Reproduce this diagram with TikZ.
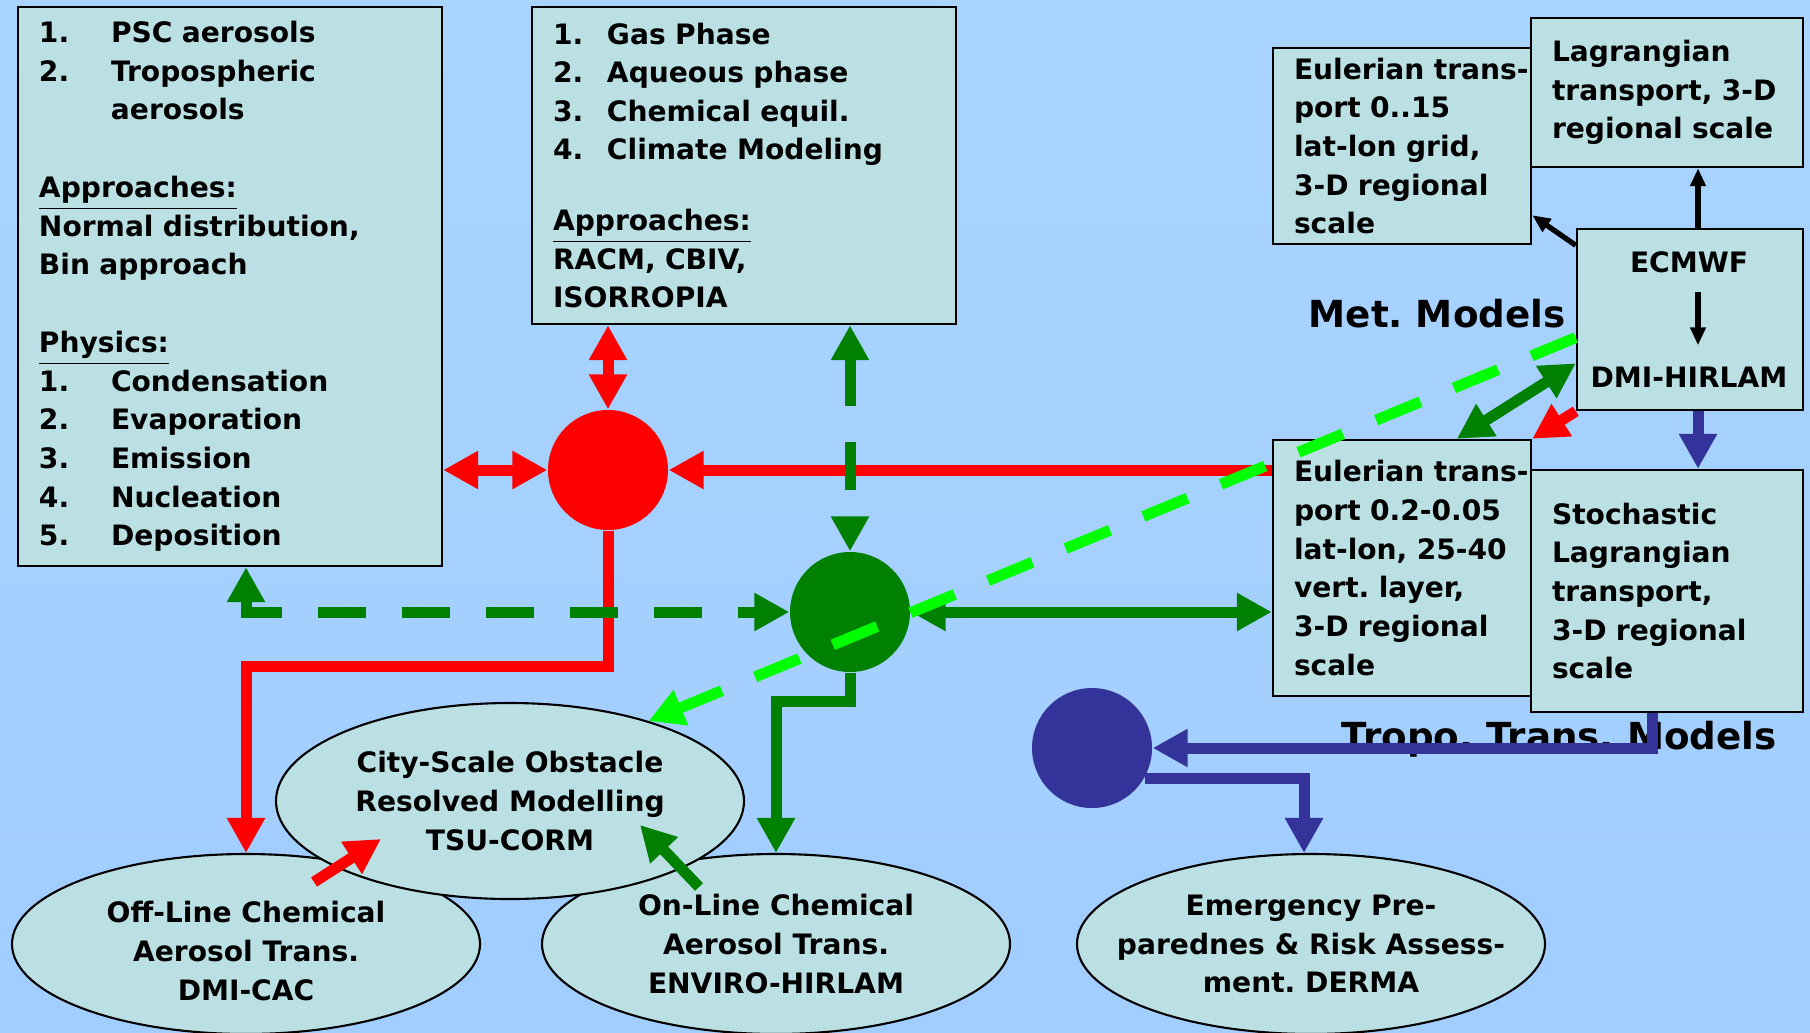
\documentclass[tikz,border=0pt]{standalone}
\usepackage{fontspec}
\setmainfont{DejaVu Sans}
\usetikzlibrary{arrows.meta,shapes.geometric}
\definecolor{boxfill}{HTML}{BBE0E3}
\definecolor{skytop}{HTML}{A9D4FF}
\definecolor{skymid}{HTML}{CCEBFF}
\definecolor{skybot}{HTML}{A1CDFF}
\definecolor{chemgreen}{HTML}{008000}
\definecolor{citygreen}{HTML}{00FF00}
\definecolor{tropoblue}{HTML}{333399}
\frenchspacing

\begin{document}
\begin{tikzpicture}[
    >={Triangle[length=0.35cm,width=0.36cm]},
    txt/.style={font=\fontsize{8}{11}\selectfont\bfseries},
    bigtxt/.style={font=\fontsize{10.6}{12}\selectfont\bfseries, inner sep=0pt},
    infobox/.style={txt, draw=black, line width=0.7pt, fill=boxfill, align=left, inner xsep=0.21cm, inner ysep=0pt},
    model/.style={ellipse, draw=black, line width=0.6pt, fill=boxfill, inner sep=0pt, minimum width=4.68cm, minimum height=1.80cm},
    hub/.style={circle, inner sep=0pt, minimum size=1.2cm},
    link/.style={line width=0.11cm},
    dashy/.style={dash pattern=on 0.48cm off 0.36cm},
    pointer/.style={line width=1.5pt, -{Triangle[length=0.18cm,width=0.15cm]}}
]
    % Sky background
    \useasboundingbox (0,0) rectangle (18.10,10.32);
    \shade[top color=skytop, middle color=skymid, bottom color=skybot] (0,0) rectangle (18.10,10.32);

    % Aerosol and chemistry boxes
    \node[infobox, text width=3.82cm, minimum height=5.59cm] (aerobox) at (2.30,7.455) {%
        \makebox[0.72cm][l]{1.}PSC aerosols\\
        \makebox[0.72cm][l]{2.}Tropospheric\\
        \hspace*{0.72cm}aerosols\\[0.39cm]
        \underline{Approaches:}\\
        Normal distribution,\\
        Bin approach\\[0.39cm]
        \underline{Physics:}\\
        \makebox[0.72cm][l]{1.}Condensation\\
        \makebox[0.72cm][l]{2.}Evaporation\\
        \makebox[0.72cm][l]{3.}Emission\\
        \makebox[0.72cm][l]{4.}Nucleation\\
        \makebox[0.72cm][l]{5.}Deposition};
    \node[infobox, text width=3.82cm, minimum height=3.17cm] (chembox) at (7.44,8.665) {%
        \makebox[0.54cm][l]{1.}Gas Phase\\
        \makebox[0.54cm][l]{2.}Aqueous phase\\
        \makebox[0.54cm][l]{3.}Chemical equil.\\
        \makebox[0.54cm][l]{4.}Climate Modeling\\[0.32cm]
        \underline{Approaches:}\\
        RACM, CBIV,\\
        ISORROPIA};

    % Met. models
    \node[infobox, text width=2.16cm, minimum height=1.96cm] (eultop) at (14.02,8.86) {%
        \mbox{Eulerian trans-}\\port 0..15\\lat-lon grid,\\3-D regional\\scale};
    \node[infobox, text width=2.30cm, minimum height=1.49cm] (lagtop) at (16.67,9.395) {%
        Lagrangian\\transport, 3-D\\regional scale};
    \node[infobox, minimum width=2.26cm, minimum height=1.81cm] (ecmwf) at (16.90,7.125) {};
    \node[txt] (ecmwftxt) at (16.89,7.70) {ECMWF};
    \node[txt] (hirlamtxt) at (16.89,6.55) {DMI-HIRLAM};
    \node[bigtxt, anchor=base west] (metlabel) at (13.08,7.05) {Met. Models};

    % Tropo. transport models
    \node[infobox, text width=2.16cm, minimum height=2.56cm] (eulbot) at (14.02,4.64) {%
        \mbox{Eulerian trans-}\\port 0.2-0.05\\lat-lon, 25-40\\vert. layer,\\3-D regional\\scale};
    \node[infobox, text width=2.30cm, minimum height=2.42cm] (stoch) at (16.67,4.41) {%
        Stochastic\\Lagrangian\\transport,\\3-D regional\\scale};
    \node[bigtxt, anchor=base west] (tropolabel) at (13.41,2.83) {Tropo. Trans. Models};

    % Hubs
    \node[hub, fill=red] (red) at (6.08,5.62) {};
    \node[hub, fill=chemgreen] (green) at (8.50,4.20) {};
    \node[hub, fill=tropoblue] (blue) at (10.92,2.84) {};

    % Model ellipses
    \node[model] (offline) at (2.46,0.88) {};
    \node[model] (online) at (7.76,0.88) {};
    \node[model] (emerg) at (13.11,0.88) {};
    \node[model, minimum height=1.96cm] (city) at (5.10,2.31) {};
    \node[txt, align=center, yshift=-0.07cm] (offtxt) at (offline) {Off-Line Chemical\\Aerosol Trans.\\DMI-CAC};
    \node[txt, align=center] (ontxt) at (online) {On-Line Chemical\\Aerosol Trans.\\ENVIRO-HIRLAM};
    \node[txt, align=center] (emergtxt) at (emerg) {Emergency Pre-\\parednes \& Risk Assess-\\ment. DERMA};
    \node[txt, align=center] (citytxt) at (city) {City-Scale Obstacle\\Resolved Modelling\\TSU-CORM};

    % Turning points
    \coordinate (redturn) at (2.46,3.66);
    \coordinate (greenturn) at (7.76,3.31);
    \coordinate (metaxis) at (16.98,0);

    % Red links
    \draw[link, red, <->] (aerobox.east |- red.west) -- (red.west);
    \draw[link, red, <->] (red.north) -- (red.north |- chembox.south);
    \draw[link, red, ->] (red.east -| eulbot.west) -- (red.east);
    \draw[link, red, ->] (red.south) |- (redturn) -- (offline.north);
    \draw[link, red, ->] ([shift={(0.68,0.62)}]offline.center) -- ([shift={(-1.29,-0.38)}]city.center);
    \draw[link, red, ->] (ecmwf.south west) -- (eulbot.north east);

    % Green links
    \draw[link, chemgreen, dashy, <->] (chembox.south -| green.north) -- (green.north);
    \draw[link, chemgreen, dashy, <->] (aerobox.south -| redturn) |- (green.west);
    \draw[link, chemgreen, <->] (green.east) -- (green.east -| eulbot.west);
    \draw[link, chemgreen, ->] (green.south) |- (greenturn) -- (online.north);
    \draw[link, chemgreen, ->] ([shift={(-0.77,0.57)}]online.center) -- ([shift={(1.30,-0.24)}]city.center);
    \draw[link, chemgreen, <->] (eulbot.67) -- (ecmwf.201);

    % Black links
    \draw[pointer] (ecmwf.147) -- (eultop.-28);
    \draw[pointer] (ecmwf.north -| metaxis) -- (lagtop.south -| metaxis);
    \draw[pointer, shorten <=0.07cm, shorten >=0.09cm] (ecmwftxt.south -| metaxis) -- (hirlamtxt.north -| metaxis);

    % Blue links
    \draw[link, tropoblue, ->] (ecmwf.south -| metaxis) -- (stoch.north -| metaxis);
    \draw[link, tropoblue, ->] ([xshift=-0.15cm]stoch.south) |- (blue.east);
    \draw[link, tropoblue, ->] (blue.-30) -| ([xshift=-0.07cm]emerg.north);

    % Light green link
    \draw[link, citygreen, dashy, ->] (ecmwf.189) -- (city.30);
\end{tikzpicture}
\end{document}
